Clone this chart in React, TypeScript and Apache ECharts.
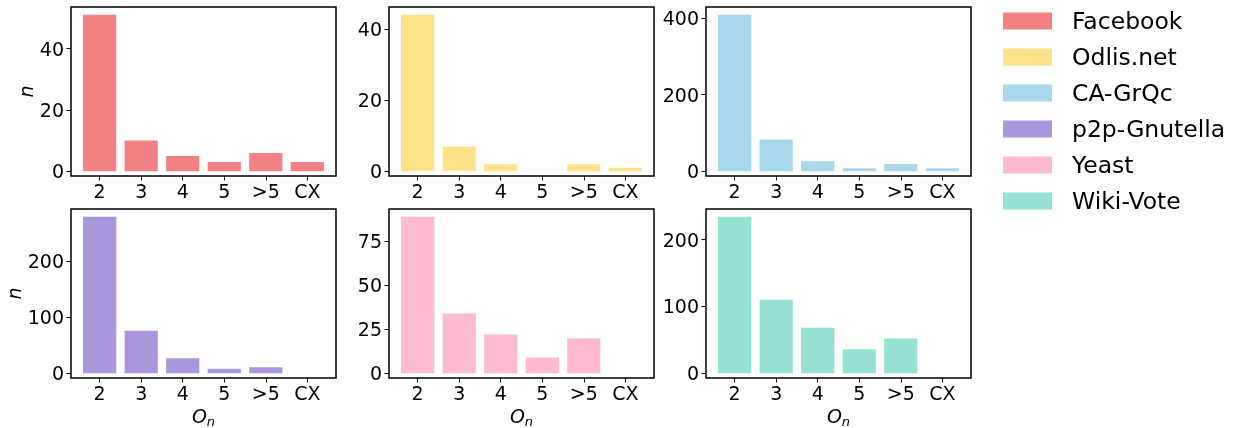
import React, { useEffect, useRef } from "react";
import * as echarts from "echarts";

const categories = ["2", "3", "4", "5", ">5", "CX"];
const datasetNames = ["Facebook", "Odlis.net", "CA-GrQc", "p2p-Gnutella", "Yeast", "Wiki-Vote"];
const colors = ["#F38181", "#FCE38A", "#A8D8EA", "#AA96DA", "#FCBAD3", "#95E1D3"];

const facebook = [51, 10, 5, 3, 6, 3];
const odlis = [44, 7, 2, 0, 2, 1];
const caGrQc = [408, 83, 26, 8, 19, 8];
const p2pGnutella = [279, 76, 27, 8, 11, 0];
const yeast = [89, 34, 22, 9, 20, 0];
const wikiVote = [234, 110, 68, 36, 52, 0];

const yTicksFacebook = [0, 20, 40];
const yTicksOdlis = [0, 20, 40];
const yTicksCaGrQc = [0, 200, 400];
const yTicksP2p = [0, 100, 200];
const yTicksYeast = [0, 25, 50, 75];
const yTicksWiki = [0, 100, 200];

const seriesValues = [facebook, odlis, caGrQc, p2pGnutella, yeast, wikiVote];
const yTicks = [yTicksFacebook, yTicksOdlis, yTicksCaGrQc, yTicksP2p, yTicksYeast, yTicksWiki];

const FONT = "DejaVu Sans";
const gridLefts = [71, 389, 706];
const gridTops = [7, 209];
const gridW = 265;
const gridH = 169;

export default function App() {
  const ref = useRef<HTMLDivElement>(null);
  useEffect(() => {
    if (!ref.current) return;
    const chart = echarts.init(ref.current, undefined, { renderer: "svg" });
    const idx = [0, 1, 2, 3, 4, 5];
    const catIdx = categories.map((_, k) => k);
    const option: any = {
      animation: false,
      textStyle: { fontFamily: FONT },
      grid: idx.map((i) => ({
        left: gridLefts[i % 3],
        top: gridTops[Math.floor(i / 3)],
        width: gridW,
        height: gridH,
        show: true,
        borderColor: "#000",
        borderWidth: 1.5,
        backgroundColor: "transparent",
        containLabel: false,
        outerBoundsMode: "none",
      })),
      xAxis: idx.map((i) => ({
        type: "value",
        gridIndex: i,
        position: "bottom",
        min: -0.69,
        max: categories.length - 1 + 0.69,
        axisLine: { show: false, onZero: false },
        splitLine: { show: false },
        axisTick: { show: true, length: 4.5, customValues: catIdx, lineStyle: { color: "#000", width: 1 } },
        axisLabel: {
          customValues: catIdx,
          formatter: (v: number) => categories[Math.round(v)],
          color: "#000",
          fontSize: 19,
          fontFamily: FONT,
          margin: 5,
        },
        name: i >= 3 ? "{o|O}{s|n}" : "",
        nameLocation: "middle",
        nameGap: 28,
        nameTextStyle: {
          color: "#000",
          rich: {
            o: { fontStyle: "italic", fontSize: 19, fontFamily: FONT, color: "#000", lineHeight: 22, verticalAlign: "top" },
            s: { fontStyle: "italic", fontSize: 13, fontFamily: FONT, color: "#000", lineHeight: 22, verticalAlign: "bottom" },
          },
        },
      })),
      yAxis: idx.map((i) => {
        const m = Math.max(...seriesValues[i]);
        return {
          type: "value",
          gridIndex: i,
          position: "left",
          min: -0.03 * m,
          max: 1.05 * m,
          axisLine: { show: false, onZero: false },
          splitLine: { show: false },
          axisTick: { show: true, length: 4.5, customValues: yTicks[i], lineStyle: { color: "#000", width: 1 } },
          axisLabel: { customValues: yTicks[i], color: "#000", fontSize: 19, fontFamily: FONT, margin: 7 },
          name: i % 3 === 0 ? "n" : "",
          nameLocation: "middle",
          nameRotate: 90,
          nameGap: i === 0 ? 33 : 47,
          nameTextStyle: { fontStyle: "italic", fontSize: 19, fontFamily: FONT, color: "#000" },
        };
      }),
      legend: {
        data: datasetNames,
        orient: "vertical",
        left: 1003,
        top: 9,
        padding: 0,
        itemWidth: 49,
        itemHeight: 17,
        itemGap: 12,
        icon: "rect",
        textStyle: { fontSize: 23.5, lineHeight: 24, color: "#000", fontFamily: FONT, padding: [0, 0, 0, 15] },
      },
      series: idx.map((i) => ({
        type: "bar",
        name: datasetNames[i],
        xAxisIndex: i,
        yAxisIndex: i,
        barWidth: "80%",
        itemStyle: { color: colors[i] },
        data: seriesValues[i].map((v, k) => [k, v]),
      })),
    };
    chart.setOption(option);
    return () => chart.dispose();
  }, []);
  return <div ref={ref} style={{ position: "fixed", left: 0, top: 0, width: 1244, height: 428 }} />;
}
